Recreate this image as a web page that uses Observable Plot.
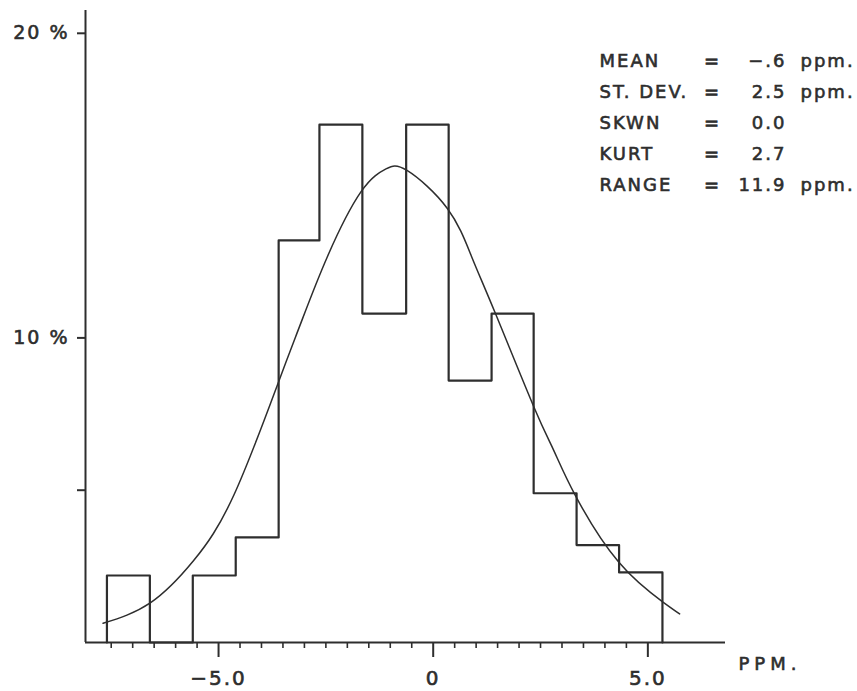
<!DOCTYPE html>
<html>
<head>
<meta charset="utf-8">
<script src="https://cdn.jsdelivr.net/npm/d3@7"></script>
<script src="https://cdn.jsdelivr.net/npm/@observablehq/plot@0.6"></script>
<style>
  html, body { margin: 0; padding: 0; background: #fff; }
  #chart svg { display: block; }
</style>
</head>
<body>
<div id="chart"></div>
<script>
// Histogram bin edges (ppm) and bin heights (percent)
const binEdges = [-7.6, -6.6, -5.6, -4.6, -3.6, -2.65, -1.65, -0.63, 0.36, 1.36, 2.34, 3.34, 4.33, 5.34];
const binPercent = [2.2, 0, 2.2, 3.45, 13.2, 17.0, 10.8, 17.0, 8.6, 10.8, 4.9, 3.2, 2.3];

// Fitted curve, points
const curveX = [-7.69, -6.59, -5.58, -4.64, -3.62, -3.09, -2.47, -1.68, -1.1, -0.61, 0.33, 0.9, 1.45, 2.34, 2.81, 3.31, 4.32, 5.36, 5.74];
const curveY = [0.63, 1.30, 2.69, 4.85, 8.49, 10.46, 12.65, 14.8, 15.55, 15.5, 14.25, 12.65, 10.8, 7.75, 6.3, 4.83, 2.64, 1.32, 0.94];

// Axes
const xMinorTicks = [-7.5, -7, -6.5, -6, -5.5, -4.5, -4, -3.5, -3, -2.5, -2, -1.5, -1, -0.5, 0.5, 1, 1.5, 2, 2.5, 3, 3.5, 4, 4.5];
const xMajorTicks = [-5, 0, 5];
const xTickLabels = ["−5.0", "0", "5.0"];
const yTicks = [5, 10, 20];
const yTickLabels = ["", "10 %", "20 %"];
const xAxisTitle = "PPM.";

// Statistics box
const statLabels = ["MEAN", "ST. DEV.", "SKWN", "KURT", "RANGE"];
const statValues = ["−.6", "2.5", "0.0", "2.7", "11.9"];
const statUnits = ["ppm.", "ppm.", "", "", "ppm."];

// ---- layout helpers (pixel -> data) ----
const X0 = 432.7, XS = 42.93;   // px of x=0, px per ppm
const Y0 = 642, YS = 30.46;     // px of y=0, px per percent
const px2x = p => (p - X0) / XS;
const px2y = p => (Y0 - p) / YS;

const xLo = px2x(85), xHi = px2x(857);
const yHi = px2y(10);

const stepRows = [{x: binEdges[0], y: 0}]
  .concat(binPercent.map((h, i) => ({x: binEdges[i], y: h})))
  .concat([{x: binEdges[binEdges.length - 1], y: 0}]);
const curveRows = curveX.map((x, i) => ({x, y: curveY[i]}));
const xLabelMap = new Map(xMajorTicks.map((t, i) => [t, xTickLabels[i]]));
const yLabelMap = new Map(yTicks.map((t, i) => [t, yTickLabels[i]]));
const statRows = statLabels.map((l, i) => ({label: l, value: statValues[i], unit: statUnits[i], y: px2y(61 + 31 * i)}));

const ink = "#2e2e2e";

const chart = Plot.plot({
  width: 857,
  height: 691,
  marginLeft: 85,
  marginRight: 0,
  marginTop: 10,
  marginBottom: 49,
  x: {domain: [xLo, xHi], label: null},
  y: {domain: [0, yHi], label: null},
  style: {fontFamily: "'DejaVu Sans', sans-serif", color: ink, background: "#fff", letterSpacing: "2px"},
  marks: [
    Plot.ruleX([xLo], {y1: 0, y2: yHi, stroke: ink, strokeWidth: 2}),
    Plot.ruleY([0], {x1: xLo, x2: px2x(725), stroke: ink, strokeWidth: 2}),
    Plot.axisX(xMinorTicks, {tickSize: 6, tickFormat: () => "", stroke: ink, strokeWidth: 1.6}),
    Plot.axisX(xMajorTicks, {tickSize: 15, tickPadding: 13, tickFormat: d => xLabelMap.get(d), fontSize: 20, stroke: ink, strokeWidth: 2, fill: ink}),
    Plot.axisY(yTicks, {tickSize: 8, tickPadding: 8, tickFormat: d => yLabelMap.get(d), fontSize: 19, stroke: ink, strokeWidth: 2, fill: ink}),
    Plot.line(stepRows, {x: "x", y: "y", curve: "step-after", stroke: ink, strokeWidth: 2.2}),
    Plot.line(curveRows, {x: "x", y: "y", curve: "natural", stroke: ink, strokeWidth: 1.5}),
    Plot.text([xAxisTitle], {x: px2x(738), y: px2y(664), text: d => d, textAnchor: "start", fontSize: 18, fill: ink}),
    Plot.text(statRows, {x: px2x(599), y: "y", text: "label", textAnchor: "start", fontSize: 18, fill: ink}),
    Plot.text(statRows, {x: px2x(712), y: "y", text: () => "=", textAnchor: "middle", fontSize: 18, fill: ink}),
    Plot.text(statRows, {x: px2x(786), y: "y", text: "value", textAnchor: "end", fontSize: 18, fill: ink}),
    Plot.text(statRows, {x: px2x(800), y: "y", text: "unit", textAnchor: "start", fontSize: 18, fill: ink})
  ]
});
document.getElementById("chart").appendChild(chart);

// heavier lettering, like the pen-drawn original
d3.select(chart).selectAll("text")
  .attr("stroke", ink)
  .attr("stroke-width", 0.6)
  .attr("paint-order", "fill");
d3.select(chart).selectAll("text")
  .filter(function() { return this.textContent === xAxisTitle; })
  .attr("letter-spacing", "5px");
</script>
</body>
</html>
